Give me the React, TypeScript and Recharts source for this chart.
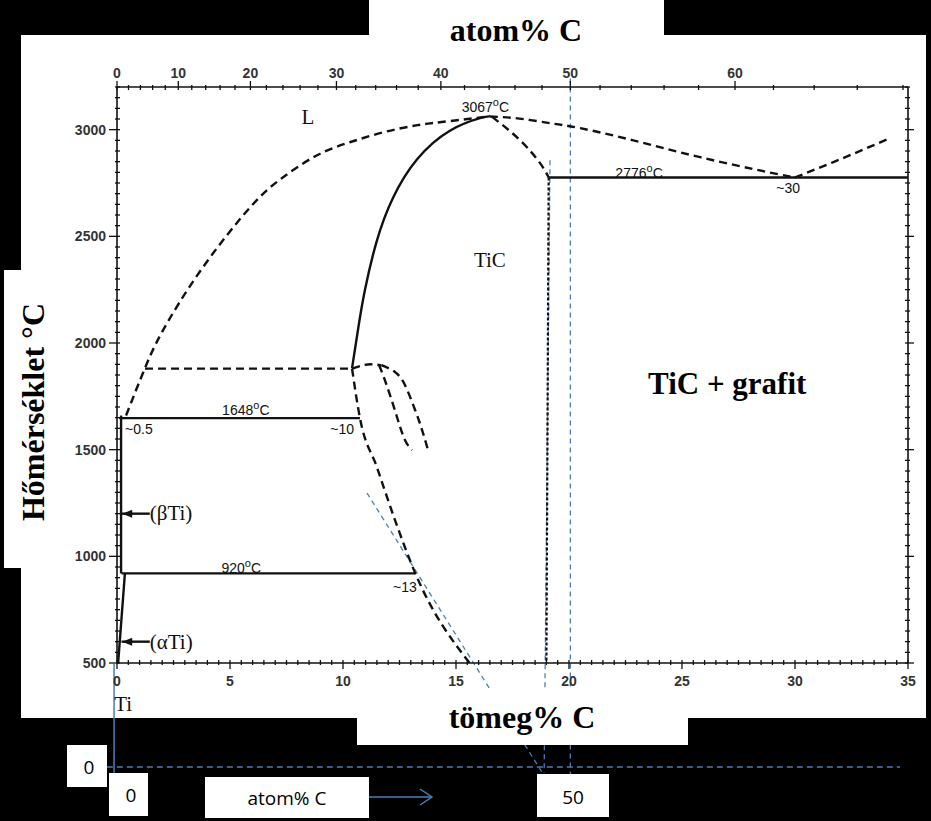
import { ComposedChart, XAxis, YAxis, Line, ReferenceLine, ReferenceDot } from "recharts";

type Pt = { w: number; t: number };
const pts = (a: number[][]): Pt[] => a.map(([w, t]) => ({ w, t }));

// phase boundaries: x = tömeg% C, y = °C
const LIQUIDUS_LEFT = pts([[0.4, 1660], [1.24, 1883], [2.04, 2060], [3.7, 2340], [5.9, 2637], [7.35, 2777], [8.85, 2880], [10.3, 2941], [11.8, 2988], [13.3, 3021], [14.7, 3040], [16.5, 3062]]);
const LIQUIDUS_RIGHT = pts([[16.5, 3062], [17.8, 3052], [19.2, 3030], [20.5, 3007], [22.8, 2951], [25.8, 2871], [28.8, 2801], [30, 2776]]);
const LIQUIDUS_C = pts([[30, 2776], [31.7, 2848], [34.2, 2960]]);
const TIC_LEFT = pts([[10.4, 1882], [10.66, 2060], [10.97, 2248], [11.5, 2480], [12.21, 2680], [13.27, 2860], [14.73, 2995], [16.1, 3055], [16.5, 3062]]);
const TIC_TOP_RIGHT = pts([[16.6, 3060], [17.83, 2951], [18.72, 2843], [19.1, 2776]]);
const TIC_RIGHT = pts([[19.1, 2776], [19.0, 500]]);
const TIC_LOWER = pts([[10.4, 1880], [10.75, 1648], [11.5, 1418], [12.3, 1170], [13.2, 920], [15.6, 500]]);
const EUTECTIC = pts([[19.1, 2776], [35, 2776]]);
const LINE_1880 = pts([[1.24, 1880], [10.4, 1880]]);
const HUMP = pts([[10.4, 1880], [10.9, 1896], [11.3, 1900], [11.7, 1895]]);
const CURVE_A = pts([[11.6, 1896], [11.77, 1850], [12.08, 1756], [12.43, 1639], [12.74, 1545], [13.05, 1498]]);
const CURVE_B = pts([[11.7, 1896], [12.3, 1864], [12.74, 1803], [13.19, 1686], [13.5, 1592], [13.76, 1498]]);
const LINE_1648 = pts([[0.1, 1648], [10.75, 1648]]);
const LINE_920 = pts([[0.2, 920], [13.2, 920]]);
const BETA_TI = pts([[0.18, 1660], [0.18, 920]]);
const ALPHA_TI = pts([[0.35, 920], [0.05, 500]]);
const BETA_ARROW = pts([[0.2, 1200], [1.45, 1200]]);
const ALPHA_ARROW = pts([[0.2, 600], [1.45, 600]]);

const SOLID_CURVES = [TIC_LEFT];
const SOLID = [EUTECTIC, LINE_1648, LINE_920, BETA_TI, ALPHA_TI, BETA_ARROW, ALPHA_ARROW];
const DASHED_CURVES = [LIQUIDUS_LEFT, LIQUIDUS_RIGHT, TIC_TOP_RIGHT, HUMP, CURVE_A, CURVE_B];
const DASHED = [LIQUIDUS_C, TIC_LOWER, LINE_1880];

// ticks
const TEMP_TICKS: number[] = [];
for (let t = 500; t <= 3200; t += 50) TEMP_TICKS.push(t);
const WT_TICKS: number[] = [];
for (let i = 0; i <= 70; i++) WT_TICKS.push(i * 0.5);
const ATOM_TICKS: number[] = [];
for (let a = 0; a <= 68; a += 2) ATOM_TICKS.push(a);
const atomToWt = (a: number) => {
  const c = 12.011 * a;
  const ti = 47.867 * (100 - a);
  return (100 * c) / (c + ti);
};
const wtToAtom = (w: number) => {
  const c = w / 12.011;
  const ti = (100 - w) / 47.867;
  return (100 * c) / (c + ti);
};
const ATOM_POS = ATOM_TICKS.map(atomToWt);

// texts inside the diagram
type Lbl = { w: number; t: number; text: string; kind: "serif" | "sans" | "deg" | "big" | "left" };
const LABELS: Lbl[] = [
  { w: 8.45, t: 3058, text: "L", kind: "serif" },
  { w: 16.3, t: 3105, text: "3067", kind: "deg" },
  { w: 16.5, t: 2388, text: "TiC", kind: "serif" },
  { w: 23.1, t: 2797, text: "2776", kind: "deg" },
  { w: 29.7, t: 2726, text: "~30", kind: "sans" },
  { w: 27.0, t: 1810, text: "TiC + grafit", kind: "big" },
  { w: 5.7, t: 1686, text: "1648", kind: "deg" },
  { w: 0.97, t: 1597, text: "~0.5", kind: "sans" },
  { w: 9.96, t: 1597, text: "~10", kind: "sans" },
  { w: 5.5, t: 945, text: "920", kind: "deg" },
  { w: 12.74, t: 856, text: "~13", kind: "sans" },
  { w: 1.45, t: 1203, text: "(βTi)", kind: "left" },
  { w: 1.45, t: 598, text: "(αTi)", kind: "left" },
  { w: 0.27, t: 310, text: "Ti", kind: "serif" },
];
const ARROW_HEADS = [{ w: 0.45, t: 1200 }, { w: 0.45, t: 600 }];

const SERIF = "'Liberation Serif', 'DejaVu Serif', serif";
const SANS = "'Liberation Sans', Arial, sans-serif";
const CALIBRI = "'Open Sans', 'Liberation Sans', sans-serif";
const INK = "#111";
const TICK_INK = "#333";
const BLUE = "#4a7ebb";

function renderLabel(l: Lbl, p: any) {
  const { cx, cy } = p;
  if (l.kind === "deg")
    return (
      <text x={cx} y={cy + 5} textAnchor="middle" fontFamily={SANS} fontSize={14} fill={INK}>
        {l.text}
        <tspan dy={-6} fontSize={11}>o</tspan>
        <tspan dy={6}>C</tspan>
      </text>
    );
  if (l.kind === "sans")
    return (
      <text x={cx} y={cy + 5} textAnchor="middle" fontFamily={SANS} fontSize={14} fill={INK}>
        {l.text}
      </text>
    );
  if (l.kind === "big")
    return (
      <text x={cx} y={cy + 10} textAnchor="middle" fontFamily={SERIF} fontWeight="bold" fontSize={31} fill="#000">
        {l.text}
      </text>
    );
  if (l.kind === "left")
    return (
      <text x={cx} y={cy + 7} textAnchor="start" fontFamily={SERIF} fontSize={21} fill={INK}>
        {l.text}
      </text>
    );
  return (
    <text x={cx} y={cy + 7} textAnchor="middle" fontFamily={SERIF} fontSize={21} fill={INK}>
      {l.text}
    </text>
  );
}

const isMult = (v: number, m: number) => Math.abs(v / m - Math.round(v / m)) < 1e-6;

const LeftTick = (p: any) => {
  const { x, y, payload } = p;
  const major = isMult(payload.value, 500);
  return (
    <g>
      <line x1={x - (major ? 8 : 2)} x2={x + 3} y1={y} y2={y} stroke={INK} strokeWidth={1.3} />
      {major && (
        <text x={x - 11} y={y + 5} textAnchor="end" fontFamily={SANS} fontWeight="bold" fontSize={14} fill={TICK_INK}>
          {payload.value}
        </text>
      )}
    </g>
  );
};

const RightTick = (p: any) => {
  const { x, y, payload } = p;
  const major = isMult(payload.value, 500);
  return <line x1={x - 3} x2={x + (major ? 6 : 2)} y1={y} y2={y} stroke={INK} strokeWidth={1.3} />;
};

const BottomTick = (p: any) => {
  const { x, y, payload } = p;
  const major = isMult(payload.value, 5);
  return (
    <g>
      <line x1={x} x2={x} y1={y - 3} y2={y + (major ? 6 : 2)} stroke={INK} strokeWidth={1.3} />
      {major && (
        <text x={x} y={y + 23} textAnchor="middle" fontFamily={SANS} fontWeight="bold" fontSize={14} fill={TICK_INK}>
          {payload.value}
        </text>
      )}
    </g>
  );
};

const TopTick = (p: any) => {
  const { x, y, payload } = p;
  const a = Math.round(wtToAtom(Number(payload.value)));
  const major = a % 10 === 0;
  return (
    <g>
      <line x1={x} x2={x} y1={y - (major ? 6 : 2)} y2={y + 3} stroke={INK} strokeWidth={1.3} />
      {major && (
        <text x={x} y={y - 9} textAnchor="middle" fontFamily={SANS} fontWeight="bold" fontSize={14} fill={TICK_INK}>
          {a}
        </text>
      )}
    </g>
  );
};

const lineProps = { dataKey: "t", dot: false, activeDot: false, isAnimationActive: false } as const;

export default function App() {
  return (
    <div style={{ position: "absolute", left: 0, top: 0, width: 931, height: 821, background: "#000", overflow: "hidden" }}>
      <div style={{ position: "absolute", left: 21, top: 35, width: 905, height: 683, background: "#fff" }} />
      <div style={{ position: "absolute", left: 0, top: 0 }}>
        <ComposedChart width={931} height={821} margin={{ top: 67, right: 13, bottom: 128, left: 67 }}>
          <XAxis
            xAxisId="w"
            dataKey="w"
            type="number"
            domain={[0, 35]}
            allowDataOverflow
            ticks={WT_TICKS}
            interval={0}
            tick={<BottomTick />}
            tickSize={0}
            tickMargin={0}
            height={30}
            axisLine={{ stroke: INK, strokeWidth: 1.6 }}
          />
          <XAxis
            xAxisId="top"
            dataKey="w"
            orientation="top"
            type="number"
            domain={[0, 35]}
            allowDataOverflow
            ticks={ATOM_POS}
            interval={0}
            tick={<TopTick />}
            tickSize={0}
            tickMargin={0}
            height={20}
            axisLine={{ stroke: INK, strokeWidth: 1.6 }}
          />
          <YAxis
            yAxisId="t"
            type="number"
            domain={[500, 3200]}
            allowDataOverflow
            ticks={TEMP_TICKS}
            interval={0}
            tick={<LeftTick />}
            tickSize={0}
            tickMargin={0}
            width={50}
            axisLine={{ stroke: INK, strokeWidth: 1.6 }}
          />
          <YAxis
            yAxisId="r"
            orientation="right"
            type="number"
            domain={[500, 3200]}
            allowDataOverflow
            ticks={TEMP_TICKS}
            interval={0}
            tick={<RightTick />}
            tickSize={0}
            tickMargin={0}
            width={10}
            axisLine={{ stroke: INK, strokeWidth: 1.6 }}
          />

          {/* invisible series so that the top and right frame axes are drawn */}
          <Line xAxisId="top" yAxisId="r" data={EUTECTIC} {...lineProps} stroke="none" />

          {/* blue guide lines */}
          <ReferenceLine xAxisId="w" yAxisId="t" ifOverflow="visible" segment={[{ x: 20.06, y: 3240 }, { x: 20.06, y: -20 }]} stroke={BLUE} strokeWidth={1.3} strokeDasharray="5 4" />
          <ReferenceLine xAxisId="w" yAxisId="t" ifOverflow="visible" segment={[{ x: 19.16, y: 2857 }, { x: 18.9, y: -15 }]} stroke={BLUE} strokeWidth={1.3} strokeDasharray="5 4" />
          <ReferenceLine xAxisId="w" yAxisId="t" ifOverflow="visible" segment={[{ x: 11.06, y: 1297 }, { x: 18.8, y: -11 }]} stroke={BLUE} strokeWidth={1.3} strokeDasharray="5 4" />
          <ReferenceLine xAxisId="w" yAxisId="t" ifOverflow="visible" segment={[{ x: -0.45, y: 13 }, { x: 34.65, y: 13 }]} stroke={BLUE} strokeWidth={1.5} strokeDasharray="6 4" />
          <ReferenceLine xAxisId="w" yAxisId="t" ifOverflow="visible" segment={[{ x: -0.13, y: 495 }, { x: -0.13, y: -15 }]} stroke={BLUE} strokeWidth={1.5} />

          {SOLID_CURVES.map((d, i) => (
            <Line key={"sc" + i} xAxisId="w" yAxisId="t" data={d} {...lineProps} type="natural" stroke={INK} strokeWidth={2.4} />
          ))}
          {SOLID.map((d, i) => (
            <Line key={"s" + i} xAxisId="w" yAxisId="t" data={d} {...lineProps} type="linear" stroke={INK} strokeWidth={2.4} />
          ))}
          {DASHED_CURVES.map((d, i) => (
            <Line key={"dc" + i} xAxisId="w" yAxisId="t" data={d} {...lineProps} type="natural" stroke={INK} strokeWidth={2.4} strokeDasharray="8 5" />
          ))}
          {DASHED.map((d, i) => (
            <Line key={"d" + i} xAxisId="w" yAxisId="t" data={d} {...lineProps} type="monotone" stroke={INK} strokeWidth={2.4} strokeDasharray="8 5" />
          ))}
          <Line xAxisId="w" yAxisId="t" data={TIC_RIGHT} {...lineProps} type="linear" stroke={INK} strokeWidth={2.2} strokeDasharray="3 2" />

          {ARROW_HEADS.map((a, i) => (
            <ReferenceDot
              key={"a" + i}
              xAxisId="w"
              yAxisId="t"
              x={a.w}
              y={a.t}
              r={0}
              ifOverflow="visible"
              shape={(p: any) => (
                <polygon points={`${p.cx - 5},${p.cy} ${p.cx + 5},${p.cy - 4} ${p.cx + 5},${p.cy + 4}`} fill={INK} />
              )}
            />
          ))}
          {LABELS.map((l) => (
            <ReferenceDot key={l.text} xAxisId="w" yAxisId="t" x={l.w} y={l.t} r={0} ifOverflow="visible" shape={(p: any) => renderLabel(l, p)} />
          ))}
        </ComposedChart>
      </div>

      {/* title boxes */}
      <svg width={931} height={821} style={{ position: "absolute", left: 0, top: 0, pointerEvents: "none" }}>
        <rect x={369} y={0} width={295} height={40} fill="#fff" />
        <text x={516} y={41} textAnchor="middle" fontFamily={SERIF} fontWeight="bold" fontSize={32} fill="#000">
          atom% C
        </text>
        <rect x={4} y={270} width={40} height={298} fill="#fff" />
        <text transform="translate(44 412) rotate(-90)" textAnchor="middle" fontFamily={SERIF} fontWeight="bold" fontSize={32} fill="#000">
          Hőmérséklet °C
        </text>
        <rect x={357} y={690} width={331} height={55} fill="#fff" />
        <text x={522} y={728} textAnchor="middle" fontFamily={SERIF} fontWeight="bold" fontSize={32} fill="#000">
          tömeg% C
        </text>

        <rect x={67} y={745} width={40} height={42} fill="#fff" />
        <text x={89} y={774} textAnchor="middle" fontFamily={CALIBRI} fontSize={19} fill="#000">0</text>
        <rect x={109} y={773} width={39} height={43} fill="#fff" />
        <text x={131} y={802} textAnchor="middle" fontFamily={CALIBRI} fontSize={19} fill="#000">0</text>
        <rect x={205} y={777} width={164} height={41} fill="#fff" />
        <text x={287} y={805} textAnchor="middle" fontFamily={CALIBRI} fontSize={19} fill="#000">atom% C</text>
        <line x1={369} y1={797} x2={431} y2={797} stroke={BLUE} strokeWidth={1.5} />
        <polyline points="420,789 432,797 420,805" fill="none" stroke={BLUE} strokeWidth={1.5} />
        <rect x={537} y={774} width={72} height={43} fill="#fff" />
        <text x={573} y={804} textAnchor="middle" fontFamily={CALIBRI} fontSize={19} fill="#000">50</text>
      </svg>
    </div>
  );
}
